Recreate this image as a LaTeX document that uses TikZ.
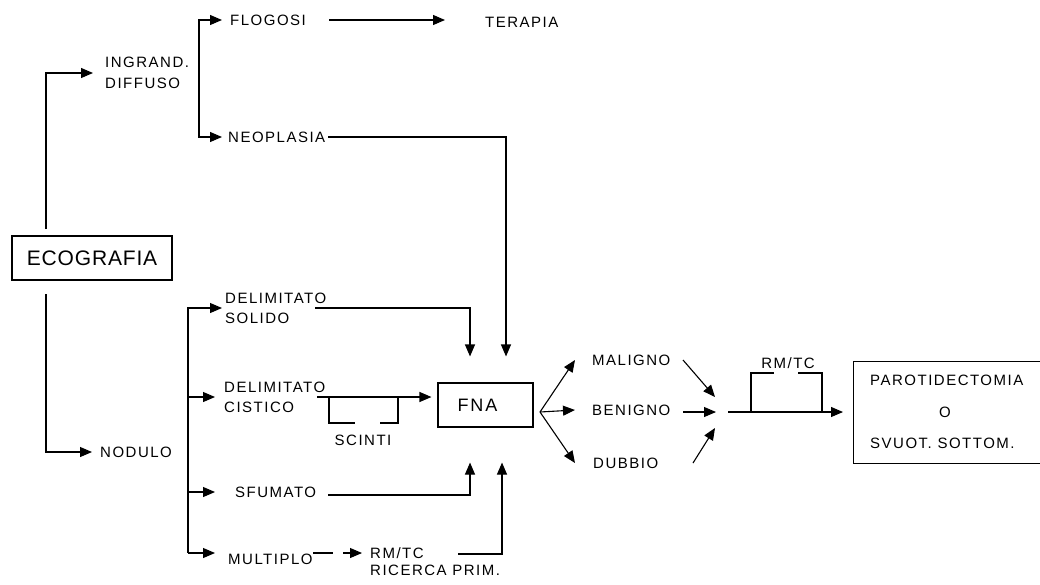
\documentclass[tikz,border=0pt]{standalone}
\usepackage{fontspec}
\usetikzlibrary{arrows.meta}
\newfontfamily\lblfont{Liberation Sans}[LetterSpace=10]
\newfontfamily\ecofont{Liberation Sans}[LetterSpace=4]
\tikzset{
  lbl/.style={font={\lblfont\fontsize{15}{20}\selectfont}, inner sep=0pt, anchor=west, align=left},
  box/.style={draw, line width=1.1pt, inner sep=0pt},
  ln/.style={line width=1.1pt},
  arr/.style={line width=1.1pt, -{Triangle[length=12pt,width=10pt]}}
}
\begin{document}
\begin{tikzpicture}[x=1pt,y=-1pt]
\useasboundingbox (0,0) rectangle (1040,584);
\clip (0,0) rectangle (1040,584);
% nodes
\node[box, minimum width=160pt, minimum height=44pt, font={\ecofont\fontsize{21}{25}\selectfont}] (eco) at (92,258) {ECOGRAFIA};
\node[lbl, font={\lblfont\fontsize{15}{21}\selectfont}] (ingr) at (105,73) {INGRAND.\\DIFFUSO};
\node[lbl] (flog) at (230,20) {FLOGOSI};
\node[lbl] (ter) at (485,22) {TERAPIA};
\node[lbl] (neo) at (228,137) {NEOPLASIA};
\node[lbl] (nod) at (100,452) {NODULO};
\node[lbl] (dsol) at (225,308) {DELIMITATO\\SOLIDO};
\node[lbl] (dcis) at (224,397) {DELIMITATO\\CISTICO};
\node[lbl] (sfum) at (235,492) {SFUMATO};
\node[lbl] (mult) at (228,559) {MULTIPLO};
\node[lbl, font={\lblfont\fontsize{15}{17}\selectfont}] (rmtc1) at (370,562) {RM/TC\\RICERCA PRIM.};
\node[lbl, anchor=center] (scinti) at (363,440) {SCINTI};
\node[box, minimum width=95pt, minimum height=44pt, font={\lblfont\fontsize{18}{22}\selectfont}] (fna) at (485.5,405) {FNA\kern16pt};
\node[lbl] (mal) at (592,360) {MALIGNO};
\node[lbl] (ben) at (592,410) {BENIGNO};
\node[lbl] (dub) at (593,463) {DUBBIO};
\node[lbl, anchor=center] (rmtc2) at (788,363) {RM/TC};
\node[box, minimum width=200pt, minimum height=102pt, anchor=north west] (paro) at (853,361) {};
\node[lbl] (paro1) at (870,380) {PAROTIDECTOMIA};
\node[lbl] (paro2) at (939,412) {O};
\node[lbl] (paro3) at (870,443) {SVUOT. SOTTOM.};
% junctions
\coordinate (eT) at (46,229);
\coordinate (eB) at (46,294);
\coordinate (v1) at (199,78);
\coordinate (v2) at (188,420);
\coordinate (fo) at (540,412);
\coordinate (cv) at (728,412);
% connectors
\draw[arr] (eT) |- ([xshift=-12pt]ingr.west);
\draw[arr] (eB) |- ([xshift=-8pt]nod.west);
\draw[arr] (v1) |- ([xshift=-8pt]flog.west);
\draw[arr] (v1) |- ([xshift=-6pt]neo.west);
\draw[arr] (flog.east -| 329,0) -- (flog.east -| 445,0);
\draw[arr, shorten >=26pt] (neo.east -| 328,0) -| (fna.north -| 506,0);
\draw[ln] (v2) -- (188,553);
\draw[arr] (v2) |- ([xshift=-3pt]dsol.west);
\draw[arr] (v2) |- ([xshift=-9pt]dcis.west);
\draw[arr] (188,492) -- ([xshift=-20pt]sfum.west);
\draw[arr] (188,553) -- (215,553);
\draw[arr, shorten >=26pt] (dsol.east -| 315,0) -| (fna.north -| 470,0);
\draw[arr, shorten >=6pt] (dcis.east -| 317,0) -- (fna.west |- dcis.east);
\draw[ln] (329,397) -- (329,423) -- (355,423);
\draw[ln] (380,423) -- (398,423) -- (398,397);
\draw[arr, shorten >=35pt] (328,495) -| (fna.south -| 470,0);
\draw[ln] (313,553) -- (333,553);
\draw[arr] (343,553) -- (362,553);
\draw[arr, shorten >=35pt] (458,554) -| (fna.south -| 502,0);
\draw[arr] (fo) -- ([xshift=-17pt]mal.west);
\draw[arr] (fo) -- ([xshift=-17pt]ben.west);
\draw[arr] (fo) -- ([xshift=-18pt]dub.west);
\draw[arr] (683,360) -- (715,397);
\draw[arr] (683,412) -- (716,412);
\draw[arr] (693,463) -- (715,428);
\draw[arr, shorten >=10pt] (cv) -- (paro.west |- cv);
\draw[ln] (751,412) -- (751,373) -- (774,373);
\draw[ln] (798,373) -- (822,373) -- (822,412);
\end{tikzpicture}
\end{document}
